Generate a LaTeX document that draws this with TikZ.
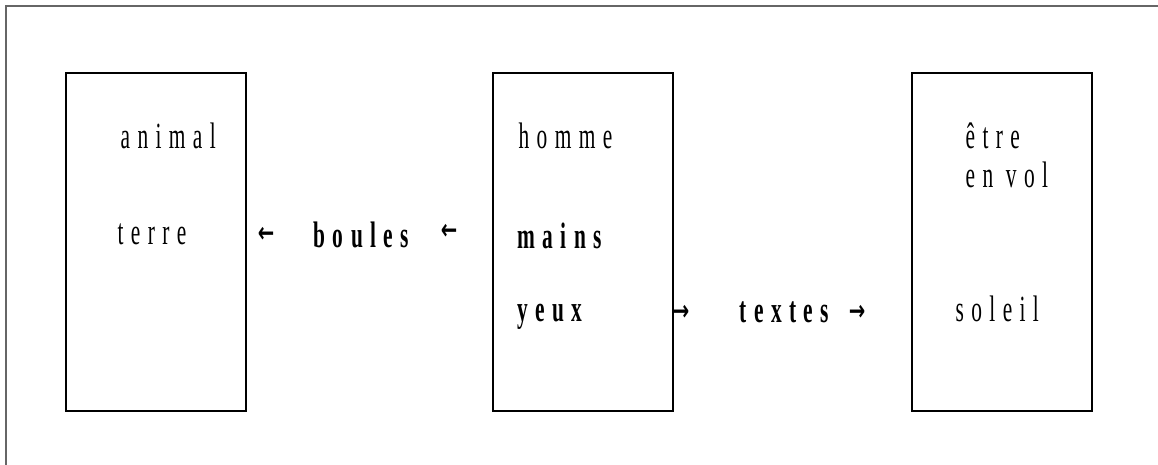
\documentclass[tikz,border=0pt]{standalone}
\usepackage{fontspec}
\newfontfamily\narrowserif[FakeStretch=0.58,LetterSpace=20]{Liberation Serif}
\newfontfamily\arrowfont[FakeStretch=0.7]{DejaVu Sans}

\begin{document}
\begin{tikzpicture}[x=0.02cm,y=-0.02cm,line width=0.75pt,
  panel/.style={draw,minimum width=3.6cm,minimum height=6.76cm,inner sep=0pt},
  word/.style={anchor=base west,inner sep=0pt,font=\narrowserif\fontsize{21pt}{25pt}\selectfont},
  strong/.style={word,font=\narrowserif\bfseries\fontsize{21pt}{25pt}\selectfont},
  tip/.style={inner sep=0pt,font=\arrowfont\bfseries\fontsize{16pt}{18pt}\selectfont}]
  \useasboundingbox (0,0) rectangle (1158,465);
  \draw[black!60,line width=0.9pt] (6,465) -- (6,6) -- (1158,6);
  % the three columns
  \node[panel] (leftbox) at (156,242){};
  \node[panel] (midbox) at (583,242){};
  \node[panel] (rightbox) at (1002,242){};
  \node[word] (animal) at (120,149){animal};
  \node[word] (terre) at (117,245){terre};
  \node[word] (homme) at (518,149){homme};
  \node[strong] (mains) at (517,249){mains};
  \node[strong] (yeux) at (517,322){yeux};
  \node[word] (etre) at (965,149){être};
  \node[word] (envol) at (965,188){en vol};
  \node[word] (soleil) at (955,322){soleil};
  % what passes between them
  \node[strong] (boules) at (313,248){boules};
  \node[strong] (textes) at (739,323){textes};
  \node[tip] (tipa) at (266,235){←};
  \node[tip] (tipb) at (449,232){←};
  \node[tip] (tipc) at (681,313){→};
  \node[tip] (tipd) at (857,313){→};
\end{tikzpicture}
\end{document}
